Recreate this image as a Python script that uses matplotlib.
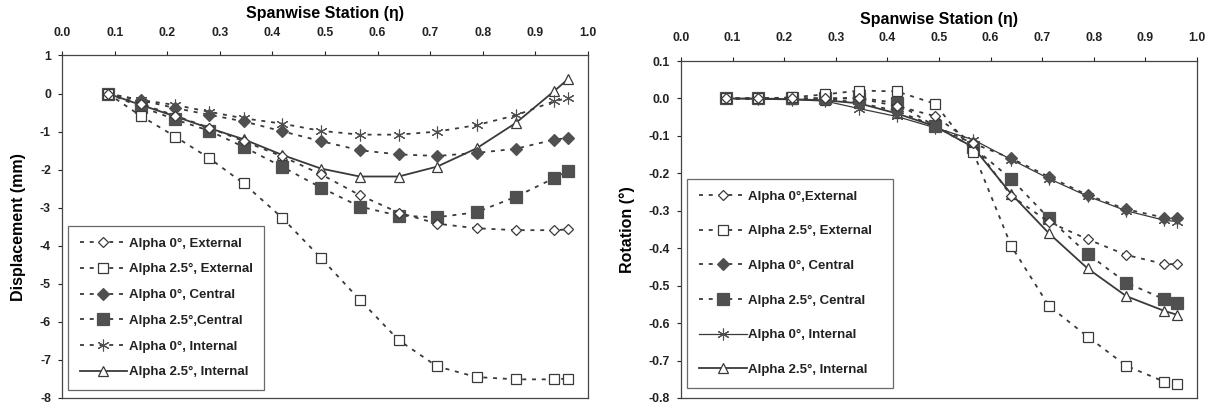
import numpy as np
import matplotlib
matplotlib.use('Agg')
import matplotlib.pyplot as plt
from matplotlib.ticker import FuncFormatter

plt.rcParams['font.family'] = ['Liberation Sans', 'DejaVu Sans']
plt.rcParams['font.weight'] = 'bold'
plt.rcParams['axes.unicode_minus'] = False

# ── Data ───────────────────────────────────────────────────────────────────────
stations = [0.087, 0.15, 0.215, 0.28, 0.345, 0.418, 0.492, 0.566,
            0.64, 0.713, 0.788, 0.863, 0.936, 0.962]

# displacement [mm]
disp_ext0  = [0, -0.27, -0.58, -0.90, -1.25, -1.65, -2.12, -2.67, -3.13, -3.42, -3.54, -3.59, -3.59, -3.57]
disp_ext25 = [0, -0.59, -1.13, -1.70, -2.36, -3.26, -4.32, -5.42, -6.48, -7.17, -7.45, -7.51, -7.51, -7.49]
disp_cen0  = [0, -0.18, -0.38, -0.56, -0.73, -0.99, -1.25, -1.49, -1.60, -1.64, -1.56, -1.45, -1.21, -1.17]
disp_cen25 = [0, -0.35, -0.68, -0.98, -1.40, -1.92, -2.47, -2.97, -3.21, -3.25, -3.12, -2.71, -2.22, -2.04]
disp_int0  = [0, -0.17, -0.30, -0.48, -0.65, -0.79, -0.98, -1.08, -1.08, -1.00, -0.83, -0.57, -0.20, -0.12]
disp_int25 = [0, -0.30, -0.60, -0.91, -1.20, -1.61, -1.97, -2.18, -2.18, -1.92, -1.44, -0.77, 0.07, 0.38]

# rotation [deg]
rot_ext0  = [0, 0, 0, 0, 0.0, -0.02, -0.047, -0.12, -0.26, -0.33, -0.376, -0.418, -0.442, -0.443]
rot_ext25 = [0, 0, 0.003, 0.011, 0.021, 0.019, -0.014, -0.142, -0.394, -0.554, -0.636, -0.714, -0.756, -0.762]
rot_cen0  = [0, 0, 0, 0, -0.012, -0.033, -0.074, -0.12, -0.16, -0.209, -0.258, -0.296, -0.318, -0.32]
rot_cen25 = [0, 0, 0, 0, 0.002, -0.012, -0.074, -0.13, -0.215, -0.32, -0.415, -0.492, -0.536, -0.545]
rot_int0  = [0, -0.002, -0.003, -0.007, -0.027, -0.048, -0.078, -0.11, -0.163, -0.214, -0.261, -0.30, -0.325, -0.329]
rot_int25 = [0, 0, -0.002, -0.005, -0.013, -0.04, -0.074, -0.13, -0.255, -0.36, -0.454, -0.528, -0.567, -0.578]

labels_disp = ['Alpha 0°, External', 'Alpha 2.5°, External', 'Alpha 0°, Central',
               'Alpha 2.5°,Central', 'Alpha 0°, Internal', 'Alpha 2.5°, Internal']
labels_rot = ['Alpha 0°,External', 'Alpha 2.5°, External', 'Alpha 0°, Central',
              'Alpha 2.5°, Central', 'Alpha 0°, Internal', 'Alpha 2.5°, Internal']

x_ticks = np.arange(0, 1.01, 0.1)
disp_ticks = np.arange(-8, 1.1, 1)
rot_ticks = np.arange(-0.8, 0.11, 0.1)

# ── Styles ─────────────────────────────────────────────────────────────────────
LC = '#3a3a3a'
FC = '#505050'
DASH = (2.2, 3.2)
ast = (6, 2, 0)

styles = [
    dict(marker='D', ms=5.5, mfc='white', mec=LC, dashes=DASH),
    dict(marker='s', ms=7, mfc='white', mec=LC, dashes=DASH),
    dict(marker='D', ms=6, mfc=FC, mec=FC, dashes=DASH),
    dict(marker='s', ms=8, mfc=FC, mec=FC, dashes=DASH),
    dict(marker=ast, ms=8.5, mfc=FC, mec=FC, mew=0.8, dashes=DASH),
    dict(marker='^', ms=7, mfc='white', mec=LC, ls='-'),
]


def fmt(decimals):
    def f(v, pos):
        s = f'{v:.{decimals}f}'
        return s[1:] if s.startswith('-') and float(s) == 0 else s
    return FuncFormatter(f)


def draw(ax, series, labels, int0_solid, leg_box, spacing):
    for i, (y, lab) in enumerate(zip(series, labels)):
        st = dict(styles[i])
        if i == 4 and int0_solid:
            st.pop('dashes')
            st['ls'] = '-'
            lw = 0.9
        else:
            lw = 1.3
        ax.plot(stations, y, color=LC, lw=lw, mew=st.pop('mew', 0.9), label=lab,
                zorder=3 + (5 - i) * 0.1, **st)
    ax.set_xlim(0, 1)
    ax.set_xticks(x_ticks)
    ax.xaxis.set_major_formatter(fmt(1))
    ax.xaxis.tick_top()
    ax.xaxis.set_label_position('top')
    ax.set_xlabel('Spanwise Station (η)', fontsize=11.5, fontweight='bold', labelpad=6)
    ax.tick_params(axis='both', direction='out', length=3, width=0.8,
                   labelsize=8.8, colors='#222222', pad=9)
    ax.tick_params(axis='y', pad=5)
    for s in ax.spines.values():
        s.set_color('#444444')
        s.set_linewidth(0.9)
    leg = ax.legend(loc='lower left', bbox_to_anchor=leg_box, mode='expand',
                    fontsize=9.5, handlelength=3.6, labelspacing=spacing,
                    fancybox=False, edgecolor='#444444', borderpad=0.9,
                    handletextpad=0.1, borderaxespad=0)
    leg.get_frame().set_linewidth(0.9)
    for t in leg.get_texts():
        t.set_fontweight('bold')
        t.set_color('#222222')


fig = plt.figure(figsize=(12.12, 4.05), dpi=100)
ax1 = fig.add_axes([0.0512, 0.0173, 0.434, 0.8457])
ax2 = fig.add_axes([0.5619, 0.0173, 0.4257, 0.832])

draw(ax1, [disp_ext0, disp_ext25, disp_cen0, disp_cen25, disp_int0, disp_int25],
     labels_disp, False, (0.011, 0.023, 0.373, 0.479), 1.02)
ax1.set_ylim(-8, 1)
ax1.set_yticks(disp_ticks)
ax1.yaxis.set_major_formatter(fmt(0))
ax1.set_ylabel('Displacement (mm)', fontsize=11.5, fontweight='bold', labelpad=10)

draw(ax2, [rot_ext0, rot_ext25, rot_cen0, rot_cen25, rot_int0, rot_int25],
     labels_rot, True, (0.012, 0.03, 0.399, 0.611), 1.7)
ax2.set_ylim(-0.8, 0.1)
ax2.set_yticks(rot_ticks)
ax2.yaxis.set_major_formatter(fmt(1))
ax2.set_ylabel('Rotation (°)', fontsize=11.5, fontweight='bold', labelpad=10)

fig.savefig('out.png', dpi=100)
